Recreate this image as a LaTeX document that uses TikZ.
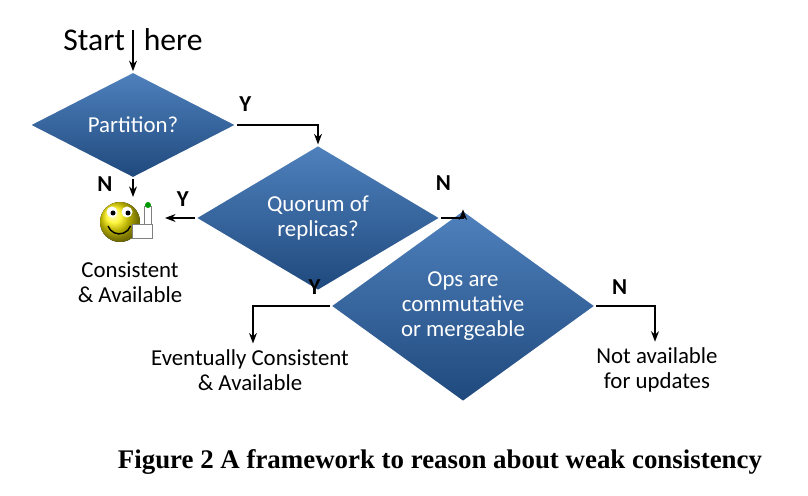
\documentclass[tikz,border=0pt]{standalone}
\usepackage{fontspec}
\setmainfont{Carlito}
\newfontfamily\capfont{Liberation Serif}
\usetikzlibrary{shapes.geometric, arrows.meta, positioning, calc}
\definecolor{decblue}{RGB}{31,73,125}
\definecolor{declight}{RGB}{79,129,189}
\begin{document}
\begin{tikzpicture}[x=0.02cm, y=-0.02cm,
    decision/.style={diamond, draw=white, line width=0.8pt, top color=declight, bottom color=decblue,
      text=white, inner sep=0pt, align=center, font=\fontsize{13}{14}\selectfont},
    lbl/.style={font=\bfseries\fontsize{13}{13}\selectfont},
    txt/.style={align=center, font=\fontsize{13}{14}\selectfont},
    flow/.style={-{Stealth[length=6pt]}, thick}]
    \useasboundingbox (0,0) rectangle (808,496);

    \node[txt, font=\fontsize{18}{18}\selectfont] (start) at (133,40) {Start\hspace{0.6em}here};
    \coordinate (stop) at (133,30);
    \node[decision, minimum width=4.14cm, minimum height=1.2cm] (part) at (133,125) {Partition?};
    \node[decision, minimum width=4.9cm, minimum height=1.85cm] (quorum) at (318,218) {Quorum of\\replicas?};
    \node[decision, minimum width=5.3cm, minimum height=2.4cm] (ops) at (463,306) {Ops are\\commutative\\or mergeable};

    % smiley
    \coordinate (smile) at (165,218);
    \fill[ball color=yellow!90!orange] (120,222) circle (20);
    \fill[white] (112,212) circle (5.5) (127,212) circle (5.5);
    \fill[black] (113,213) circle (2.5) (128,213) circle (2.5);
    \draw[thick] (108,226) arc[start angle=160, end angle=20, radius=12];
    \fill[white, draw=gray] (132,224) rectangle (152,238);
    \fill[white, draw=gray] (144,224) rectangle (151,206);
    \fill[green!60!black] (148,205) circle (3);

    \node[txt] (cons) at (130,282) {Consistent\\\& Available};
    \node[txt] (event) at (250,370) {Eventually Consistent\\\& Available};
    \node[txt] (notav) at (657,370) {Not available\\for updates};

    \draw[flow] (stop) -- (part.north);
    \draw[flow] (part.east) -| (quorum.north) node[lbl, pos=0.05, above=4pt] {Y};
    \draw[flow] (part.south) -- (133,197) node[lbl, pos=0.3, left=8pt] {N};
    \draw[flow] (quorum.west) -- (smile) node[lbl, pos=0.4, above=3pt] {Y};
    \draw[flow] (quorum.east) -| (ops.north) node[lbl, pos=0.05, above=12pt] {N};
    \draw[flow] (ops.west) -| ($(event.north)+(3,0)$) node[lbl, pos=0.1, above=3pt] {Y};
    \draw[flow] (ops.east) -| ($(notav.north)+(-2,0)$) node[lbl, pos=0.2, above=3pt] {N};

    \node[font=\capfont\bfseries\fontsize{15.3}{16}\selectfont] (cap) at (440,462) {Figure 2 A framework to reason about weak consistency};
\end{tikzpicture}
\end{document}
